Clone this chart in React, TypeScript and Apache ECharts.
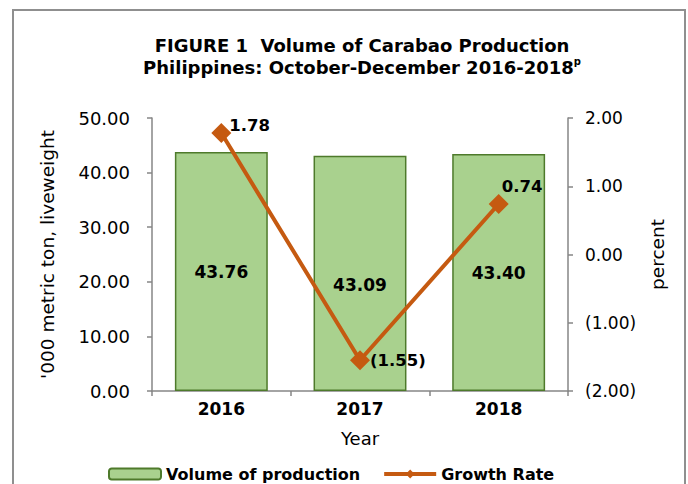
import React, { useEffect, useRef } from "react";
import * as echarts from "echarts";

const years = ["2016", "2017", "2018"];
const volume = [43.76, 43.09, 43.4];
const growth = [1.78, -1.55, 0.74];
const volumeLabelOffsets = [[0, 0], [0, 12], [0, 0]];
const growthLabelOffsets = [[-2, -8], [0, 0], [-7, -17]];

const FONT = "DejaVu Sans";

const fmt = (v: number) =>
  v < 0 ? `(${Math.abs(v).toFixed(2)})` : v.toFixed(2);

export default function App() {
  const ref = useRef<HTMLDivElement>(null);
  useEffect(() => {
    if (!ref.current) return;
    const chart = echarts.init(ref.current, undefined, { renderer: "svg" });
    const axisLine = { show: true, lineStyle: { color: "#868686", width: 1.5 } };
    const axisTick = { show: true, length: 5, lineStyle: { color: "#868686", width: 1.5 } };
    chart.setOption({
      animation: false,
      backgroundColor: "#ffffff",
      textStyle: { fontFamily: FONT },
      title: {
        text: "FIGURE 1  Volume of Carabao Production\nPhilippines: October-December 2016-2018{sup|p}",
        left: 357,
        top: 29,
        textAlign: "center",
        textStyle: {
          fontFamily: FONT,
          fontSize: 18,
          fontWeight: "bold",
          color: "#000",
          lineHeight: 22,
          rich: {
            sup: {
              fontFamily: FONT,
              fontSize: 10,
              fontWeight: "bold",
              color: "#000",
              verticalAlign: "top",
              lineHeight: 22,
              padding: [0, 0, 8, 0],
            },
          },
        },
      },
      graphic: [
        {
          type: "rect",
          shape: { x: 13, y: 10, width: 672, height: 520 },
          style: { fill: "none", stroke: "#8f8f8f", lineWidth: 2 },
          silent: true,
        },
      ],
      legend: {
        left: 103,
        top: 461,
        itemWidth: 52,
        itemHeight: 11,
        itemGap: 22,
        lineStyle: { width: 4 },
        textStyle: { fontFamily: FONT, fontSize: 16, fontWeight: "bold", color: "#000" },
        data: [
          { name: "Volume of production" },
          { name: "Growth Rate", lineStyle: { width: 4, color: "#C55A11" } },
        ],
      },
      grid: { left: 152, right: 120, top: 118, bottom: 93 },
      xAxis: {
        type: "category",
        data: years,
        name: "Year",
        nameLocation: "middle",
        nameGap: 38,
        nameTextStyle: { fontFamily: FONT, fontSize: 18, color: "#000" },
        axisLine,
        axisTick,
        axisLabel: { fontFamily: FONT, fontSize: 17, fontWeight: "bold", color: "#000", margin: 9 },
      },
      yAxis: [
        {
          type: "value",
          min: 0,
          max: 50,
          interval: 10,
          name: "'000 metric ton, liveweight",
          nameLocation: "middle",
          nameGap: 95,
          nameRotate: 90,
          nameTextStyle: { fontFamily: FONT, fontSize: 18.5, color: "#000" },
          axisLine,
          axisTick,
          splitLine: { show: false },
          axisLabel: {
            fontFamily: FONT,
            fontSize: 18,
            color: "#000",
            margin: 22,
            formatter: (v: number) => fmt(v),
          },
        },
        {
          type: "value",
          min: -2,
          max: 2,
          interval: 1,
          position: "right",
          name: "percent",
          nameLocation: "middle",
          nameGap: 80,
          nameRotate: 90,
          nameTextStyle: { fontFamily: FONT, fontSize: 18.5, color: "#000" },
          axisLine,
          axisTick,
          splitLine: { show: false },
          axisLabel: {
            fontFamily: FONT,
            fontSize: 17,
            color: "#000",
            margin: 17,
            formatter: (v: number) => fmt(v),
          },
        },
      ],
      series: [
        {
          name: "Volume of production",
          type: "bar",
          yAxisIndex: 0,
          barCategoryGap: "33%",
          itemStyle: { color: "#A9D18E", borderColor: "#4E7A2B", borderWidth: 1.5 },
          data: volume.map((v, i) => ({
            value: v,
            label: { offset: volumeLabelOffsets[i] },
          })),
          label: {
            show: true,
            position: "inside",
            fontFamily: FONT,
            fontSize: 17,
            fontWeight: "bold",
            color: "#000",
            formatter: (p: any) => fmt(p.value),
          },
        },
        {
          name: "Growth Rate",
          type: "line",
          yAxisIndex: 1,
          symbol: "diamond",
          symbolSize: 20,
          lineStyle: { color: "#C55A11", width: 4 },
          itemStyle: { color: "#C55A11" },
          data: growth.map((v, i) => ({
            value: v,
            label: { offset: growthLabelOffsets[i] },
          })),
          label: {
            show: true,
            position: "right",
            distance: 0,
            fontFamily: FONT,
            fontSize: 16.5,
            fontWeight: "bold",
            color: "#000",
            formatter: (p: any) => fmt(p.value),
          },
        },
      ],
    });
    return () => chart.dispose();
  }, []);
  return (
    <div
      ref={ref}
      style={{ position: "absolute", left: 0, top: 0, width: 688, height: 484 }}
    />
  );
}
